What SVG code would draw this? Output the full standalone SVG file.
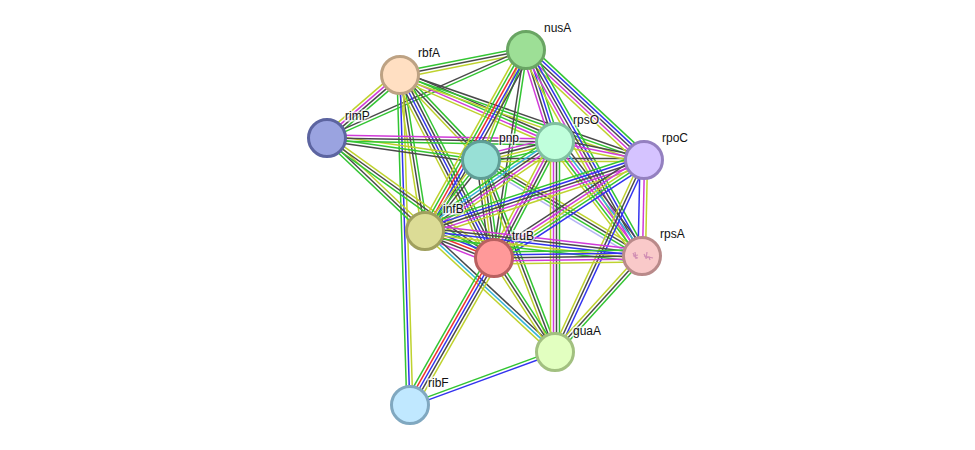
<svg xmlns="http://www.w3.org/2000/svg" width="975" height="450" viewBox="0 0 975 450">
<style>
path{fill:none;stroke-width:1.5}
.g{stroke:#33c533}.b{stroke:#3333ee}.r{stroke:#f03030}.k{stroke:#4a4a4a}.y{stroke:#bfd22e}.m{stroke:#d03ad8}.c{stroke:#35b4d8}.l{stroke:#b4b4f4}
circle{stroke-width:3}
.blob{stroke:#c77fae;stroke-width:1.2;opacity:.8}
text{font:12px "Liberation Sans",Arial,sans-serif;fill:#111;stroke:#fff;stroke-opacity:.7;stroke-width:3;paint-order:stroke}
</style>
<rect width="975" height="450" fill="#fff"/>
<g id="connectors">
<g transform="translate(400 75) rotate(-11.2)"><path class="g" d="M0-3H128"/><path class="k" d="M0 0H128"/><path class="y" d="M0 3H128"/></g>
<g transform="translate(327 138) rotate(-40.8)"><path class="y" d="M0-4.500H96"/><path class="m" d="M0-1.500H96"/><path class="k" d="M0 1.500H96"/><path class="g" d="M0 4.500H96"/></g>
<g transform="translate(327 138) rotate(-23.9)"><path class="k" d="M0-1.500H218"/><path class="g" d="M0 1.500H218"/></g>
<g transform="translate(400 75) rotate(46.4)"><path class="g" d="M0-4.500H117"/><path class="k" d="M0-1.500H117"/><path class="y" d="M0 1.500H117"/></g>
<g transform="translate(400 75) rotate(23.4)"><path class="k" d="M0-4.500H169"/><path class="g" d="M0-1.500H169"/><path class="m" d="M0 1.500H169"/><path class="y" d="M0 4.500H169"/></g>
<g transform="translate(400 75) rotate(19.2)"><path class="k" d="M0-3H258"/><path class="g" d="M0 0H258"/><path class="y" d="M0 3H258"/></g>
<g transform="translate(400 75) rotate(80.9)"><path class="g" d="M0-3H158"/><path class="k" d="M0 0H158"/><path class="y" d="M0 3H158"/></g>
<g transform="translate(400 75) rotate(62.8)"><path class="g" d="M0-6H206"/><path class="k" d="M0-3H206"/><path class="b" d="M0 0H206"/><path class="k" d="M0 3H206"/><path class="y" d="M0 6H206"/></g>
<g transform="translate(400 75) rotate(88.300)"><path class="y" d="M0-3H330"/><path class="b" d="M0 0H330"/><path class="g" d="M0 3H330"/></g>
<g transform="translate(327 138) rotate(8.1)"><path class="y" d="M0-3H156"/><path class="g" d="M0 0H156"/><path class="k" d="M0 3H156"/></g>
<g transform="translate(327 138) rotate(1)"><path class="m" d="M0-3H228"/><path class="k" d="M0 0H228"/><path class="g" d="M0 3H228"/></g>
<g transform="translate(327 138) rotate(43.500)"><path class="y" d="M0-3H135"/><path class="k" d="M0 0H135"/><path class="g" d="M0 3H135"/></g>
<g transform="translate(327 138) rotate(35.7)"><path class="y" d="M0-3H206"/><path class="k" d="M0 0H206"/><path class="g" d="M0 3H206"/></g>
<g transform="translate(481 160) rotate(-67.8)"><path class="y" d="M0-1.500H119"/><path class="g" d="M0 1.500H119"/></g>
<g transform="translate(526 50) rotate(72.500)"><path class="g" d="M0-4.500H96"/><path class="b" d="M0-1.500H96"/><path class="k" d="M0 1.500H96"/><path class="m" d="M0 4.500H96"/></g>
<g transform="translate(526 50) rotate(43)"><path class="g" d="M0-6H161"/><path class="b" d="M0-3H161"/><path class="k" d="M0 0H161"/><path class="m" d="M0 3H161"/><path class="y" d="M0 6H161"/></g>
<g transform="translate(425 231) rotate(-60.8)"><path class="y" d="M0-6H207"/><path class="g" d="M0-3H207"/><path class="r" d="M0 0H207"/><path class="b" d="M0 3H207"/><path class="k" d="M0 6H207"/></g>
<g transform="translate(494 258) rotate(-81.300)"><path class="k" d="M0-1.500H210"/><path class="g" d="M0 1.500H210"/></g>
<g transform="translate(526 50) rotate(60.6)"><path class="g" d="M0-6H236"/><path class="b" d="M0-3H236"/><path class="k" d="M0 0H236"/><path class="m" d="M0 3H236"/><path class="y" d="M0 6H236"/></g>
<g transform="translate(481 160) rotate(-13.7)"><path class="m" d="M0-4.500H76"/><path class="k" d="M0-1.500H76"/><path class="y" d="M0 1.500H76"/><path class="g" d="M0 4.500H76"/></g>
<g transform="translate(481 160) rotate(0)"><path class="k" d="M0-1.500H163"/><path class="y" d="M0 1.500H163"/></g>
<g transform="translate(425 231) rotate(-51.7)"><path class="y" d="M0-3H90"/><path class="g" d="M0 0H90"/><path class="k" d="M0 3H90"/></g>
<g transform="translate(481 160) rotate(82.4)"><path class="g" d="M0-4.500H99"/><path class="k" d="M0-1.500H99"/><path class="y" d="M0 1.500H99"/><path class="k" d="M0 4.500H99"/></g>
<g transform="translate(481 160) rotate(30.8)"><path class="y" d="M0-4.500H187"/><path class="k" d="M0-1.500H187"/><path class="g" d="M0 1.500H187"/><path class="l" d="M0 4.500H187"/></g>
<g transform="translate(481 160) rotate(68.9)"><path class="g" d="M0-3H206"/><path class="k" d="M0 0H206"/><path class="y" d="M0 3H206"/></g>
<g transform="translate(555 142) rotate(11.4)"><path class="k" d="M0-3H91"/><path class="m" d="M0 0H91"/><path class="y" d="M0 3H91"/></g>
<g transform="translate(425 231) rotate(-34.4)"><path class="g" d="M0-6H158"/><path class="c" d="M0-3H158"/><path class="k" d="M0 0H158"/><path class="m" d="M0 3H158"/><path class="y" d="M0 6H158"/></g>
<g transform="translate(494 258) rotate(-62.3)"><path class="y" d="M0-4.500H131"/><path class="m" d="M0-1.500H131"/><path class="k" d="M0 1.500H131"/><path class="g" d="M0 4.500H131"/></g>
<g transform="translate(555 142) rotate(52.6)"><path class="k" d="M0-6H143"/><path class="c" d="M0-3H143"/><path class="m" d="M0 0H143"/><path class="g" d="M0 3H143"/><path class="y" d="M0 6H143"/></g>
<g transform="translate(555 142) rotate(90)"><path class="g" d="M0-4.500H210"/><path class="k" d="M0-1.500H210"/><path class="m" d="M0 1.500H210"/><path class="y" d="M0 4.500H210"/></g>
<g transform="translate(425 231) rotate(-18)"><path class="g" d="M0-6H230"/><path class="b" d="M0-3H230"/><path class="k" d="M0 0H230"/><path class="m" d="M0 3H230"/><path class="y" d="M0 6H230"/></g>
<g transform="translate(494 258) rotate(-33.2)"><path class="k" d="M0-6H179"/><path class="m" d="M0-3H179"/><path class="y" d="M0 0H179"/><path class="g" d="M0 3H179"/><path class="b" d="M0 6H179"/></g>
<g transform="translate(644 160) rotate(91.2)"><path class="y" d="M0-3.500H96"/><path class="m" d="M0-.5H96"/><path class="b" d="M0 4H96"/></g>
<g transform="translate(555 352) rotate(-65.1)"><path class="y" d="M0-3H212"/><path class="k" d="M0 0H212"/><path class="b" d="M0 3H212"/></g>
<g transform="translate(425 231) rotate(21.4)"><path class="g" d="M0-6H74"/><path class="b" d="M0-3H74"/><path class="r" d="M0 0H74"/><path class="k" d="M0 3H74"/><path class="m" d="M0 6H74"/></g>
<g transform="translate(425 231) rotate(6.6)"><path class="m" d="M0-6H218"/><path class="k" d="M0-3H218"/><path class="b" d="M0 0H218"/><path class="y" d="M0 3H218"/><path class="g" d="M0 6H218"/></g>
<g transform="translate(425 231) rotate(42.9)"><path class="k" d="M0-3H178"/><path class="c" d="M0 0H178"/><path class="y" d="M0 3H178"/></g>
<g transform="translate(494 258) rotate(-.8)"><path class="g" d="M0-6H148"/><path class="b" d="M0-3H148"/><path class="k" d="M0 0H148"/><path class="m" d="M0 3H148"/><path class="y" d="M0 6H148"/></g>
<g transform="translate(494 258) rotate(57)"><path class="g" d="M0-3H112"/><path class="k" d="M0 0H112"/><path class="y" d="M0 3H112"/></g>
<g transform="translate(410 405) rotate(-60.3)"><path class="g" d="M0-6H169"/><path class="r" d="M0-3H169"/><path class="b" d="M0 0H169"/><path class="k" d="M0 3H169"/><path class="y" d="M0 6H169"/></g>
<g transform="translate(410 405) rotate(-20.1)"><path class="g" d="M0-1.500H154"/><path class="b" d="M0 1.500H154"/></g>
<g transform="translate(555 352) rotate(-47.8)"><path class="y" d="M0-3H130"/><path class="k" d="M0 0H130"/><path class="g" d="M0 3H130"/></g>
</g>
<g id="rbfA"><circle cx="400" cy="75" r="18.500" fill="#ffdfc2" stroke="#bda283"/><text x="418" y="57">rbfA</text></g>
<g id="nusA"><circle cx="526" cy="50" r="18.500" fill="#9ddf96" stroke="#69a563"/><text x="544" y="32">nusA</text></g>
<g id="rimP"><circle cx="327" cy="138" r="18.500" fill="#9aa3e0" stroke="#5c64a0"/><text x="345" y="120">rimP</text></g>
<g id="pnp"><circle cx="481" cy="160" r="18.500" fill="#98e0d6" stroke="#5f9e96"/><text x="499" y="142">pnp</text></g>
<g id="rpsO"><circle cx="555" cy="142" r="18.500" fill="#c0ffdc" stroke="#80c0a0"/><text x="573" y="124">rpsO</text></g>
<g id="rpoC"><circle cx="644" cy="160" r="18.500" fill="#d5c3ff" stroke="#9480c0"/><text x="662" y="142">rpoC</text></g>
<g id="infB"><circle cx="425" cy="231" r="18.500" fill="#dcdc96" stroke="#a0a05e"/><text x="443" y="213">infB</text></g>
<g id="truB"><circle cx="494" cy="258" r="18.500" fill="#ff9999" stroke="#b96060"/><text x="512" y="240">truB</text></g>
<g id="rpsA"><circle cx="642" cy="256" r="18.500" fill="#f9c9c9" stroke="#b98a8a"/><path class="blob" d="M633 253l2 4 3 1M635 252l1 7M633 256l5-1M644 254l2 4 3-1 1 3M647 252l-1 7M644 256l9 2"/><text x="660" y="238">rpsA</text></g>
<g id="guaA"><circle cx="555" cy="352" r="18.500" fill="#e2ffc0" stroke="#a2c080"/><text x="573" y="335">guaA</text></g>
<g id="ribF"><circle cx="410" cy="405" r="18.500" fill="#c0e8ff" stroke="#80a8c0"/><text x="428" y="387">ribF</text></g>
</svg>
